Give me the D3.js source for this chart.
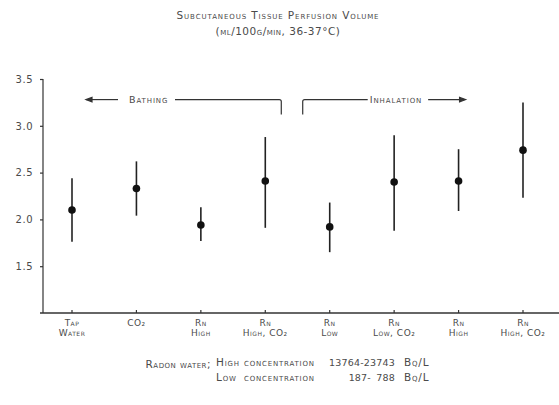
<!DOCTYPE html>
<html>
<head>
<meta charset="utf-8">
<script src="https://cdn.jsdelivr.net/npm/d3@7"></script>
<style>
  body { margin: 0; background: #fff; }
  text { font-family: "DejaVu Sans", sans-serif; font-variant: small-caps; fill: #4a4a4a; }
</style>
</head>
<body>
<div id="chart"></div>
<script>
const labelTop = ['Tap', 'CO₂', 'Rn', 'Rn', 'Rn', 'Rn', 'Rn', 'Rn'];
const labelBottom = ['Water', '', 'High', 'High, CO₂', 'Low', 'Low, CO₂', 'High', 'High, CO₂'];
const means = [2.10, 2.33, 1.94, 2.41, 1.92, 2.40, 2.41, 2.74];
const upper = [2.44, 2.62, 2.13, 2.88, 2.18, 2.90, 2.75, 3.25];
const lower = [1.76, 2.04, 1.77, 1.91, 1.65, 1.88, 2.09, 2.23];
const yTicks = [1.5, 2.0, 2.5, 3.0, 3.5];

const W = 559, H = 405;

const svg = d3.select('#chart')
    .append('svg')
    .attr('width', W)
    .attr('height', H);

const x = d3.scalePoint()
    .domain(d3.range(labelTop.length))
    .range([72, 523]);

const y = d3.scaleLinear()
    .domain([1, 3.5])
    .range([313, 79]);

// title
svg.append('text')
    .attr('x', 278).attr('y', 19)
    .attr('text-anchor', 'middle')
    .style('font-size', '10.5px')
    .style('letter-spacing', '0.9px')
    .text('Subcutaneous Tissue Perfusion Volume');
svg.append('text')
    .attr('x', 278).attr('y', 35)
    .attr('text-anchor', 'middle')
    .style('font-size', '10.5px')
    .style('letter-spacing', '0.5px')
    .text('(ml/100g/min, 36-37°C)');

// y axis
const yAxis = svg.append('g')
    .attr('transform', 'translate(43,0)')
    .call(d3.axisLeft(y).tickValues(yTicks).tickFormat(d3.format('.1f')).tickSize(3).tickPadding(7));
yAxis.select('.domain').attr('d', `M0,${y(3.5)}V${y(1)}`).attr('stroke', '#333').attr('stroke-width', 1.2);
yAxis.selectAll('.tick line').attr('stroke', '#333').attr('stroke-width', 1.2);
yAxis.selectAll('.tick text')
    .style('font-family', '"DejaVu Sans", sans-serif')
    .style('font-size', '10px')
    .style('font-variant', 'normal')
    .style('letter-spacing', '0.5px')
    .attr('fill', '#666');

// x axis
svg.append('line')
    .attr('x1', 40).attr('x2', W)
    .attr('y1', y(1)).attr('y2', y(1))
    .attr('stroke', '#333').attr('stroke-width', 1.5);

const xg = svg.append('g');
xg.selectAll('line')
    .data(d3.range(labelTop.length))
    .enter()
    .append('line')
    .attr('x1', d => x(d)).attr('x2', d => x(d))
    .attr('y1', y(1)).attr('y2', y(1) - 3)
    .attr('stroke', '#333').attr('stroke-width', 1.2);

xg.selectAll('text.top')
    .data(labelTop)
    .enter()
    .append('text')
    .attr('class', 'top')
    .attr('x', (d, i) => x(i))
    .attr('y', 326)
    .attr('text-anchor', 'middle')
    .style('font-size', '9px')
    .style('letter-spacing', '0.5px')
    .text(d => d);

xg.selectAll('text.bot')
    .data(labelBottom)
    .enter()
    .append('text')
    .attr('class', 'bot')
    .attr('x', (d, i) => x(i))
    .attr('y', 336)
    .attr('text-anchor', 'middle')
    .style('font-size', '9px')
    .style('letter-spacing', '0.5px')
    .text(d => d);

// error bars + means
const marks = svg.append('g');
marks.selectAll('line')
    .data(means)
    .enter()
    .append('line')
    .attr('x1', (d, i) => x(i)).attr('x2', (d, i) => x(i))
    .attr('y1', (d, i) => y(upper[i]))
    .attr('y2', (d, i) => y(lower[i]))
    .attr('stroke', '#222').attr('stroke-width', 1.6);

marks.selectAll('circle')
    .data(means)
    .enter()
    .append('circle')
    .attr('cx', (d, i) => x(i))
    .attr('cy', d => y(d))
    .attr('r', 3.8)
    .attr('fill', '#111');

// bathing / inhalation brackets
const bY = y(3.28), bDrop = y(3.12);
const ann = svg.append('g').attr('stroke', '#333').attr('stroke-width', 1.2).attr('fill', 'none');
ann.append('path').attr('d', `M${x(0) + 14},${bY}H${x(0) + 46}`);
ann.append('path').attr('d', `M${x(0) + 14},${bY}l6,-2.2v4.4z`).attr('fill', '#333');
ann.append('path').attr('d', `M${x(0) + 103},${bY}H${x(3) + 14}q2,0 2,2V${bDrop}`);
ann.append('path').attr('d', `M${x(4) - 27},${bDrop}V${bY + 2}q0,-2 2,-2H${x(4) + 38}`);
ann.append('path').attr('d', `M${x(5) + 34},${bY}H${x(6) + 6}`);
ann.append('path').attr('d', `M${x(6) + 7},${bY}l-6,-2.2v4.4z`).attr('fill', '#333');

svg.append('text')
    .attr('x', x(0) + 57).attr('y', bY + 3)
    .style('font-size', '9.5px').style('letter-spacing', '0.9px')
    .text('Bathing');
svg.append('text')
    .attr('x', x(4) + 40).attr('y', bY + 3)
    .style('font-size', '9.5px').style('letter-spacing', '0.9px')
    .text('Inhalation');

// footnote
const note = svg.append('g').style('font-size', '10.5px').style('letter-spacing', '0.8px');
note.append('text').attr('x', 211).attr('y', 368).attr('text-anchor', 'end').style('letter-spacing', '0.5px').text('Radon water;');
note.append('text').attr('x', 216).attr('y', 366).text('High concentration');
note.append('text').attr('x', 216).attr('y', 381).text('Low');
note.append('text').attr('x', 244).attr('y', 381).text('concentration');
const nums = note.append('g').style('font-size', '9.5px').style('letter-spacing', '0.2px');
nums.append('text').attr('x', 395).attr('y', 366).attr('text-anchor', 'end').text('13764-23743');
nums.append('text').attr('x', 371).attr('y', 381).attr('text-anchor', 'end').text('187-');
nums.append('text').attr('x', 395).attr('y', 381).attr('text-anchor', 'end').text('788');
note.append('text').attr('x', 404).attr('y', 366).text('Bq/L');
note.append('text').attr('x', 404).attr('y', 381).text('Bq/L');
</script>
</body>
</html>
